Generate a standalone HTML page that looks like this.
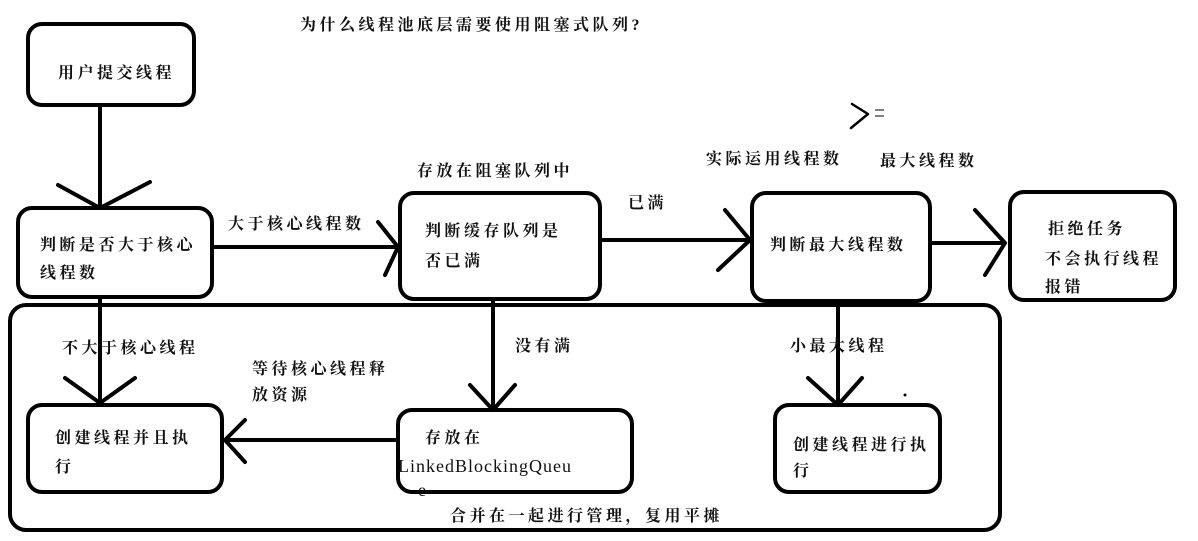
<!DOCTYPE html>
<html><head><meta charset="utf-8"><style>
html,body{margin:0;padding:0;background:#fff;}
svg text{font-family:"Liberation Serif","Noto Serif CJK SC",serif;font-size:16px;letter-spacing:3.5px;fill:#111;font-weight:bold;}
</style></head><body>
<svg width="1198" height="536" viewBox="0 0 1198 536" xmlns="http://www.w3.org/2000/svg">
<g fill="none" stroke="#000" stroke-width="4" stroke-linejoin="round" stroke-linecap="round">
<rect x="28" y="24" width="166" height="81" rx="14"/>
<rect x="18" y="208" width="194" height="89" rx="14"/>
<rect x="400" y="193" width="200" height="106" rx="14"/>
<rect x="752" y="193" width="178" height="108" rx="14"/>
<rect x="1010" y="192" width="165" height="108" rx="14"/>
<rect x="10" y="305" width="990" height="225" rx="16"/>
<rect x="28" y="405" width="194" height="87" rx="14"/>
<rect x="398" y="410" width="234" height="82" rx="14"/>
<rect x="775" y="405" width="165" height="87" rx="14"/>
<path d="M100 105 V208 M58 185 L100 208 L150 182"/>
<path d="M212 247 H398 M378 222 L398 247 L385 275"/>
<path d="M600 240 H750 M725 210 L750 240 L718 270"/>
<path d="M930 243 H1005 M975 210 L1005 243 L985 275"/>
<path d="M100 297 V403 M65 378 L100 403 L135 378"/>
<path d="M493 299 V410 M470 385 L493 410 L515 385"/>
<path d="M838 301 V405 M808 378 L838 405 L862 378"/>
<path d="M398 440 H225 M245 420 L225 440 L245 462"/>
<path d="M852 104 L868 114 L851 128" stroke-width="2.5"/>
</g>
<path d="M875 110 H884 M875 116 H884" stroke="#000" stroke-width="1"/>
<circle cx="905" cy="395" r="1.5" fill="#000"/>
<text x="300" y="30">为什么线程池底层需要使用阻塞式队列?</text>
<text x="58" y="78">用户提交线程</text>
<text x="40" y="250">判断是否大于核心</text>
<text x="40" y="278">线程数</text>
<text x="228" y="229">大于核心线程数</text>
<text x="417" y="176">存放在阻塞队列中</text>
<text x="425" y="236">判断缓存队列是</text>
<text x="425" y="266">否已满</text>
<text x="628" y="208">已满</text>
<text x="706" y="164">实际运用线程数</text>
<text x="880" y="166">最大线程数</text>
<text x="770" y="250">判断最大线程数</text>
<text x="1048" y="234">拒绝任务</text>
<text x="1045" y="264">不会执行线程</text>
<text x="1045" y="292">报错</text>
<text x="62" y="353">不大于核心线程</text>
<text x="515" y="351">没有满</text>
<text x="252" y="374">等待核心线程释</text>
<text x="252" y="400">放资源</text>
<text x="790" y="351">小最大线程</text>
<text x="55" y="443">创建线程并且执</text>
<text x="55" y="472">行</text>
<text x="425" y="443">存放在</text>
<text x="398" y="472" style="font-size:18px;letter-spacing:1px;font-weight:normal">LinkedBlockingQueu</text>
<text x="418" y="496" style="font-size:18px;font-weight:normal">e</text>
<text x="793" y="450">创建线程进行执</text>
<text x="793" y="476">行</text>
<text x="450" y="521">合并在一起进行管理，复用平摊</text>
</svg>
</body></html>
